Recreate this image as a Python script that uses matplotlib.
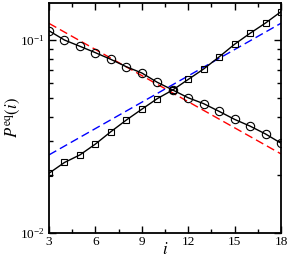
import matplotlib
matplotlib.use("Agg")
import matplotlib.pyplot as plt
import numpy as np
from matplotlib.ticker import MultipleLocator, LogLocator, NullFormatter

plt.rcParams['font.family'] = 'Liberation Serif'
plt.rcParams['mathtext.fontset'] = 'stix'

# data
i_vals = np.arange(3, 19)
p_circ = [0.1117, 0.100, 0.0928, 0.0860, 0.0794, 0.0727, 0.0675, 0.0604,
          0.0551, 0.0502, 0.0468, 0.0427, 0.0388, 0.0358, 0.0326, 0.0292]
p_sq = [0.0204, 0.0232, 0.0254, 0.0289, 0.0335, 0.0385, 0.0438, 0.0497,
        0.0551, 0.0625, 0.0708, 0.0818, 0.0951, 0.1084, 0.1225, 0.1403]
fit_x = [3, 18]
fit_red = [0.122, 0.0257]
fit_blue = [0.0254, 0.1222]

fig = plt.figure(figsize=(2.89, 2.63), dpi=100)
ax = fig.add_axes([0.1696, 0.1141, 0.8027, 0.8745])

ax.plot(fit_x, fit_red, color='red', ls=(0, (6, 3)), lw=1.0)
ax.plot(fit_x, fit_blue, color='blue', ls=(0, (6, 3)), lw=1.0)
ax.plot(i_vals, p_circ, color='black', lw=1.0, marker='o', ms=6,
        mfc='none', mec='black', mew=0.8)
ax.plot(i_vals, p_sq, color='black', lw=1.0, marker='s', ms=5,
        mfc='none', mec='black', mew=0.8)

ax.set_yscale('log')
ax.set_xlim(3, 18)
ax.set_ylim(0.01, 0.1556)

ax.xaxis.set_major_locator(MultipleLocator(3))
ax.xaxis.set_minor_locator(MultipleLocator(1.5))
ax.yaxis.set_major_locator(LogLocator(base=10))
ax.yaxis.set_minor_locator(LogLocator(base=10, subs=np.arange(2, 10)))
ax.yaxis.set_minor_formatter(NullFormatter())

ax.tick_params(which='both', direction='in', top=True, right=True,
               labelsize=9.5, width=1.0)
ax.tick_params(axis='x', which='major', pad=2)
ax.tick_params(which='major', length=5)
ax.tick_params(which='minor', length=3)
for s in ax.spines.values():
    s.set_linewidth(1.3)

ax.set_xlabel('$i$', fontsize=12, labelpad=-4)
ax.set_ylabel(r'$P^{\rm eq}(i)$', fontsize=12, labelpad=-2)

fig.savefig('out.png', dpi=100)
